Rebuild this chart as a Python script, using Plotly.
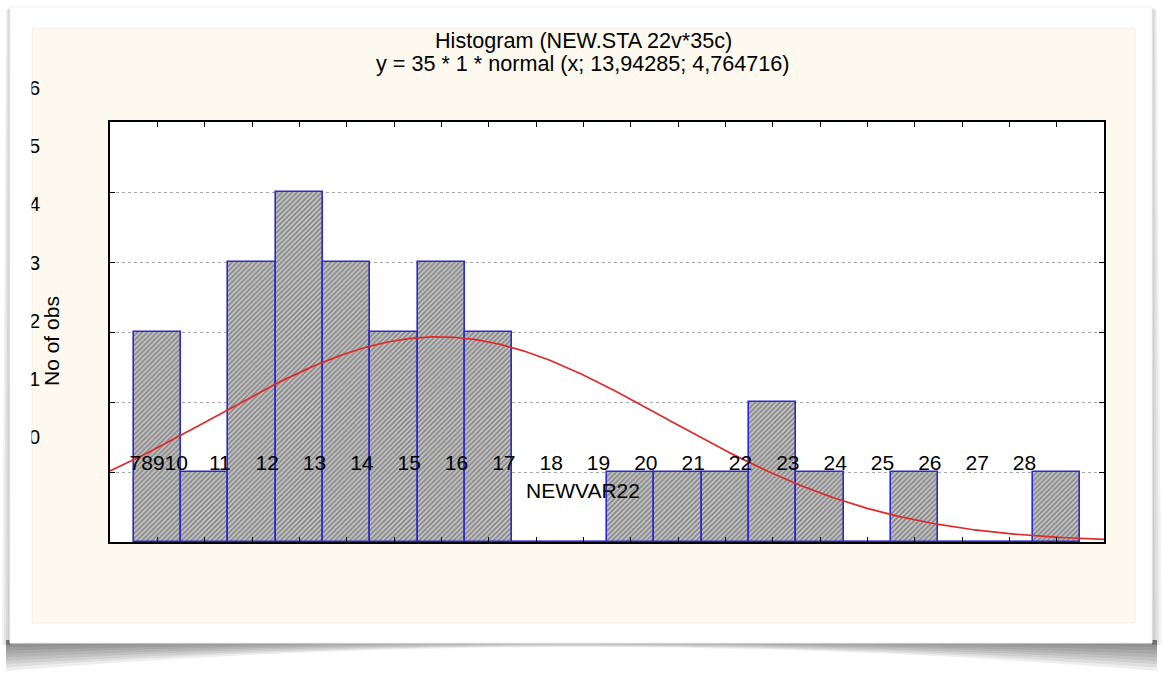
import numpy as np
import plotly.graph_objects as go

# ---- data -------------------------------------------------------------
bin_centers = [8, 9, 10, 11, 12, 13, 14, 15, 16, 17,
               18, 19, 20, 21, 22, 23, 24, 25, 26, 27]
bin_counts = [3, 1, 4, 5, 4, 3, 4, 3, 0, 0,
              1, 1, 1, 2, 1, 0, 1, 0, 0, 1]
x_tick_labels = ["78910", "11", "12", "13", "14", "15", "16", "17", "18",
                 "19", "20", "21", "22", "23", "24", "25", "26", "27", "28"]
y_tick_values = [0, 1, 2, 3, 4, 5, 6]
y_tick_labels = ["0", "1", "2", "3", "4", "5", "6"]
n_obs = 35
bin_width = 1
fit_mean = 13.94285
fit_sd = 4.764716

title_lines = ["Histogram (NEW.STA 22v*35c)",
               "y = 35 * 1 * normal (x; 13,94285; 4,764716)"]
x_title = "NEWVAR22"
y_title = "No of obs"

# ---- page geometry (pixels -> paper fractions) ------------------------
W, H = 1162, 680


def fx(p):
    return p / W


def fy(p):
    return 1 - p / H


FONT = "Liberation Sans, Arial, sans-serif"
BAR_EDGE = "#2a2ad0"

# fitted normal curve, as stated in the subtitle
x_lo, x_hi = bin_centers[0] - bin_width, bin_centers[-1] + bin_width
curve_x = np.linspace(x_lo, x_hi, 400)
curve_y = n_obs * bin_width * np.exp(-0.5 * ((curve_x - fit_mean) / fit_sd) ** 2) / (
    fit_sd * np.sqrt(2 * np.pi))

# empty bins are outlined along the baseline
zero_x, zero_y = [], []
for c, n in zip(bin_centers, bin_counts):
    if n == 0:
        zero_x += [c - bin_width / 2, c + bin_width / 2, None]
        zero_y += [0, 0, None]

# tick label placement along the shifted label axis
label_shift = 1.68
label_pos = [bin_centers[0] + 0.03] + [int(t) - label_shift for t in x_tick_labels[1:]]

fig = go.Figure()
fig.add_trace(go.Bar(
    x=bin_centers, y=bin_counts, width=bin_width,
    marker=dict(color="#c4c4c4",
                line=dict(color=BAR_EDGE, width=1.6),
                pattern=dict(shape="/", fgcolor="#474747", bgcolor="#c6c6c6",
                             size=3.5, solidity=0.5)),
    showlegend=False, hoverinfo="skip"))
fig.add_trace(go.Scatter(x=zero_x, y=zero_y, mode="lines",
                         line=dict(color=BAR_EDGE, width=2.5),
                         cliponaxis=False, showlegend=False, hoverinfo="skip"))
fig.add_trace(go.Scatter(x=curve_x, y=curve_y, mode="lines",
                         line=dict(color="#e02a2a", width=1.7),
                         showlegend=False, hoverinfo="skip"))
# carriers for the label axes
fig.add_trace(go.Scatter(x=[], y=[], xaxis="x2", yaxis="y", showlegend=False))
fig.add_trace(go.Scatter(x=[], y=[], xaxis="x", yaxis="y2", showlegend=False))

shapes = []
# soft card shadow (stacked translucent layers)
n_layers = 9
for k in range(1, n_layers + 1):
    f = k / n_layers
    dc, dm = 31 * f, 7 * f
    top = 640
    xl, xr = 6, 1157
    y_end = top + dc
    yc = top + 2 * dm - dc
    path = (f"M {fx(xl)},{fy(top)} L {fx(xr)},{fy(top)} L {fx(xr)},{fy(y_end)} "
            f"Q {fx((xl + xr) / 2)},{fy(yc)} {fx(xl)},{fy(y_end)} Z")
    shapes.append(dict(type="path", path=path, xref="paper", yref="paper",
                       fillcolor="rgba(0,0,0,0.065)", line=dict(width=0),
                       layer="below"))
for k in range(1, 5):
    w = 2 * k
    shapes.append(dict(type="path", xref="paper", yref="paper", layer="below",
                       path=(f"M {fx(10)},{fy(8)} L {fx(10 - w * 0.5)},{fy(10)} "
                             f"L {fx(10 - w)},{fy(645)} L {fx(10)},{fy(645)} Z"),
                       fillcolor="rgba(0,0,0,0.05)", line=dict(width=0)))
    shapes.append(dict(type="path", xref="paper", yref="paper", layer="below",
                       path=(f"M {fx(1152)},{fy(8)} L {fx(1152 + w * 0.6)},{fy(10)} "
                             f"L {fx(1152 + w * 1.2)},{fy(645)} L {fx(1152)},{fy(645)} Z"),
                       fillcolor="rgba(0,0,0,0.05)", line=dict(width=0)))
# card
shapes.append(dict(type="rect", xref="paper", yref="paper", layer="below",
                   x0=fx(10), x1=fx(1152), y0=fy(643), y1=fy(7),
                   fillcolor="white", line=dict(color="#f1f1f1", width=1)))
# cream chart window
shapes.append(dict(type="rect", xref="paper", yref="paper", layer="below",
                   x0=fx(32), x1=fx(1135), y0=fy(623), y1=fy(28),
                   fillcolor="#fdf9ee", line=dict(color="#f3efe4", width=1)))
# white plotting area
shapes.append(dict(type="rect", xref="x domain", yref="y domain", layer="below",
                   x0=0, x1=1, y0=0, y1=1, fillcolor="white", line=dict(width=0)))
# card margin trims the value labels on the left
shapes.append(dict(type="rect", xref="paper", yref="paper", layer="above",
                   x0=fx(10.5), x1=fx(31.5), y0=fy(622), y1=fy(28),
                   fillcolor="white", line=dict(width=0)))

annotations = [
    dict(text=title_lines[0], x=fx(583), y=fy(40), xref="paper", yref="paper",
         showarrow=False, font=dict(family=FONT, size=21.6, color="black"),
         xanchor="center", yanchor="middle"),
    dict(text=title_lines[1], x=fx(583), y=fy(63), xref="paper", yref="paper",
         showarrow=False, font=dict(family=FONT, size=21.6, color="black"),
         xanchor="center", yanchor="middle"),
    dict(text=x_title, x=fx(583), y=fy(490), xref="paper", yref="paper",
         showarrow=False, font=dict(family=FONT, size=21, color="black"),
         xanchor="center", yanchor="middle"),
    dict(text=y_title, x=fx(51), y=fy(341), xref="paper", yref="paper",
         showarrow=False, textangle=-90,
         font=dict(family=FONT, size=21, color="black"),
         xanchor="center", yanchor="middle"),
]

axis_common = dict(showgrid=False, zeroline=False, automargin=False)
fig.update_layout(
    width=W, height=H,
    margin=dict(l=0, r=0, t=0, b=0, pad=0, autoexpand=False),
    paper_bgcolor="white", plot_bgcolor="rgba(0,0,0,0)",
    bargap=0,
    shapes=shapes, annotations=annotations,
    xaxis=dict(domain=[fx(110), fx(1104)], range=[x_lo, x_hi], anchor="y",
               tickmode="linear", tick0=x_lo, dtick=bin_width,
               ticks="inside", ticklen=5, tickwidth=1.2, tickcolor="black",
               showticklabels=False, showline=True, linecolor="black",
               linewidth=1.6, mirror="ticks", **axis_common),
    yaxis=dict(domain=[fy(542), fy(122)], range=[0, 6], anchor="x",
               tickmode="linear", tick0=0, dtick=1,
               ticks="inside", ticklen=5, tickwidth=1.2, tickcolor="black",
               showticklabels=False, showline=True, linecolor="black",
               linewidth=1.6, mirror="ticks",
               showgrid=True, gridcolor="#a8a8a8", gridwidth=1, griddash="dot",
               zeroline=False, automargin=False),
    xaxis2=dict(overlaying="x", range=[x_lo, x_hi], anchor="free",
                position=fy(448), side="bottom",
                tickmode="array", tickvals=label_pos, ticktext=x_tick_labels,
                ticks="", showline=False,
                tickfont=dict(family=FONT, size=21, color="black"),
                **axis_common),
    yaxis2=dict(domain=[fy(437), fy(88)], range=[0, 6], anchor="free",
                position=fx(40), side="left",
                tickmode="array", tickvals=y_tick_values, ticktext=y_tick_labels,
                ticks="", showline=False,
                tickfont=dict(family=FONT, size=20, color="black"),
                **axis_common),
)

fig.write_html("out.html")
